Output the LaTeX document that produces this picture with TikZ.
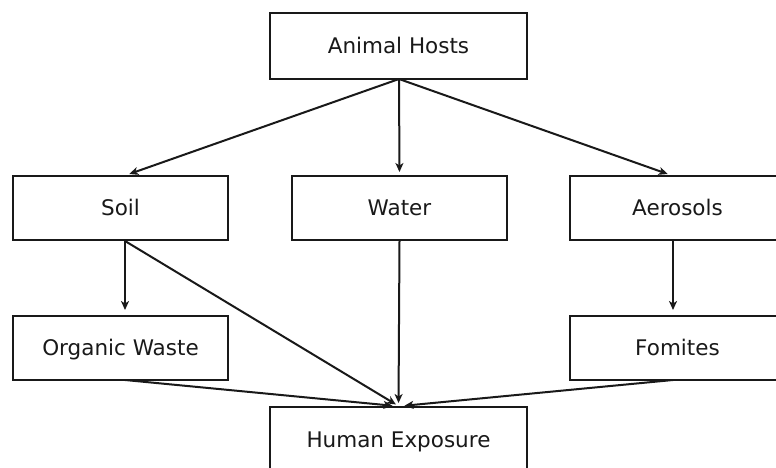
\documentclass[tikz,border=0pt]{standalone}
\usepackage{fontspec}
\setmainfont{DejaVu Sans}
\usetikzlibrary{arrows.meta}
\begin{document}
\begin{tikzpicture}[x=1pt,y=-1pt,
  box/.style={draw=black!90,line width=2pt,fill=white,inner sep=0pt,font=\fontsize{21.5}{26}\selectfont,text=black!90,text height=17pt,text depth=1.4pt},
  conn/.style={line width=2pt,draw=black!90,-{Stealth[length=9pt,width=8pt,inset=2.5pt]},shorten >=3pt}]
\useasboundingbox (0,0) rectangle (776,468);
\node[box,minimum width=257pt,minimum height=66pt] (hosts) at (398.5,46) {Animal Hosts};
\node[box,minimum width=215pt,minimum height=64pt] (soil) at (120.5,208) {Soil};
\node[box,minimum width=215pt,minimum height=64pt] (water) at (399.5,208) {Water};
\node[box,minimum width=215pt,minimum height=64pt] (aero) at (677.5,208) {Aerosols};
\node[box,minimum width=215pt,minimum height=64pt] (org) at (120.5,348) {Organic Waste};
\node[box,minimum width=215pt,minimum height=64pt] (fom) at (677.5,348) {Fomites};
\node[box,minimum width=257pt,minimum height=66pt] (human) at (398.5,440) {Human Exposure};
\coordinate (hb) at (399,79);
\draw[conn] (hb) -- ([xshift=6pt]soil.north);
\draw[conn] (hb) -- (water.north);
\draw[conn] (hb) -- ([xshift=-7pt]aero.north);
\coordinate (sb) at (125,241);
\coordinate (ab) at (673,241);
\coordinate (ob) at (125,380);
\coordinate (fb) at (673,380);
\draw[conn] (sb) -- (125,313) coordinate (ot);
\draw[conn] (ab) -- (673,313) coordinate (ft);
\draw[conn] (sb) -- (human.north);
\draw[conn] (water.south) -- (human.north);
\draw[conn] (ob) -- ([xshift=-3pt]human.north);
\draw[conn] (fb) -- ([xshift=3pt]human.north);
\end{tikzpicture}
\end{document}
